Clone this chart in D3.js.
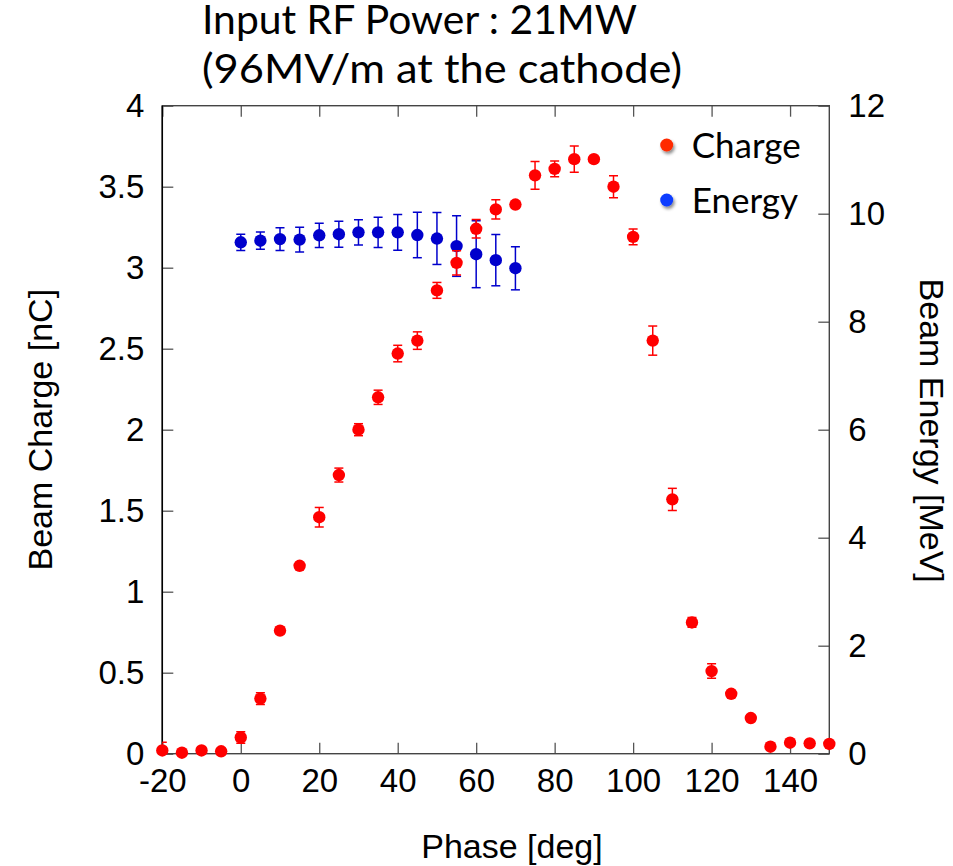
<!DOCTYPE html>
<html>
<head>
<meta charset="utf-8">
<script src="https://cdn.jsdelivr.net/npm/d3@7"></script>
<style>
    body { margin: 0; background: #fff; }
</style>
</head>
<body>
<svg class="chart"></svg>
<script>
// phase scan data
let chargePhase = [-20, -15, -10, -5, 0, 5, 10, 15, 20, 25, 30, 35, 40, 45, 50, 55, 60, 65, 70,
    75, 80, 85, 90, 95, 100, 105, 110, 115, 120, 125, 130, 135, 140, 145, 150];
let charge = [0.02, 0.006, 0.02, 0.015, 0.10, 0.34, 0.76, 1.16, 1.46, 1.72, 2.00, 2.20, 2.47, 2.55, 2.86,
    3.03, 3.24, 3.36, 3.39, 3.57, 3.61, 3.67, 3.67, 3.50, 3.19, 2.55, 1.57, 0.81, 0.51, 0.37, 0.22,
    0.043, 0.068, 0.064, 0.06];
let chargeErr = [0.05, 0.01, 0.02, 0.01, 0.036, 0.037, 0.02, 0.02, 0.06, 0.043, 0.037, 0.044, 0.051, 0.054, 0.049,
    0.075, 0.057, 0.059, 0.0, 0.086, 0.048, 0.081, 0.0, 0.068, 0.049, 0.09, 0.068, 0.03, 0.045, 0.02, 0.02,
    0.01, 0.01, 0.01, 0.01];

let energyPhase = [0, 5, 10, 15, 20, 25, 30, 35, 40, 45, 50, 55, 60, 65, 70];
let energy = [9.47, 9.50, 9.53, 9.52, 9.60, 9.62, 9.655, 9.655, 9.655, 9.605, 9.54, 9.40, 9.25, 9.14, 8.99];
let energyErr = [0.15, 0.16, 0.21, 0.23, 0.225, 0.24, 0.235, 0.28, 0.33, 0.42, 0.48, 0.56, 0.62, 0.475, 0.40];

let xTicks = [-20, 0, 20, 40, 60, 80, 100, 120, 140];
let yLeftTicks = [0, 0.5, 1, 1.5, 2, 2.5, 3, 3.5, 4];
let yRightTicks = [0, 2, 4, 6, 8, 10, 12];

let titleLines = ['Input RF Power : 21MW', '(96MV/m at the cathode)'];
let legendNames = ['Charge', 'Energy'];

let W = 953, H = 866;
let pL = 162.3, pR = 829.3, pT = 105.7, pB = 753.7;
let tickFont = '"Liberation Sans", Arial, sans-serif';
let calFont = 'Lato, "Open Sans", sans-serif';

let x = d3.scaleLinear().domain([-20, 150]).range([pL, pR]);
let yC = d3.scaleLinear().domain([0, 4]).range([pB, pT]);
let yE = d3.scaleLinear().domain([0, 12]).range([pB, pT]);

let svg = d3.select('svg.chart').attr('width', W).attr('height', H);

let defs = svg.append('defs');
defs.append('clipPath').attr('id', 'plot')
    .append('rect')
    .attr('x', pL).attr('y', pT)
    .attr('width', pR - pL).attr('height', pB - pT);
defs.append('filter').attr('id', 'shadow')
    .attr('x', '-50%').attr('y', '-50%').attr('width', '200%').attr('height', '200%')
    .append('feDropShadow')
    .attr('dx', 1.5).attr('dy', 2.5).attr('stdDeviation', 1.5)
    .attr('flood-color', '#000').attr('flood-opacity', 0.45);

//坐标轴 - ticks point inward
function styleAxis(g) {
    g.select('.domain').remove();
    g.selectAll('.tick line').attr('stroke', '#555').attr('stroke-width', 1.3);
    g.selectAll('.tick text')
        .attr('fill', '#000')
        .attr('font-family', tickFont)
        .attr('font-size', 33);
}

svg.append('g')
    .attr('transform', `translate(0,${pB})`)
    .call(d3.axisBottom(x).tickValues(xTicks).tickFormat(d => String(d)).tickSize(-11).tickPadding(15))
    .call(styleAxis);

svg.append('g')
    .attr('transform', `translate(0,${pT})`)
    .call(d3.axisTop(x).tickValues(xTicks).tickFormat('').tickSize(-11))
    .call(styleAxis);

svg.append('g')
    .attr('transform', `translate(${pL},0)`)
    .call(d3.axisLeft(yC).tickValues(yLeftTicks).tickFormat(d => String(d)).tickSize(-11).tickPadding(18))
    .call(styleAxis);

svg.append('g')
    .attr('transform', `translate(${pR},0)`)
    .call(d3.axisRight(yE).tickValues(yRightTicks).tickFormat(d => String(d)).tickSize(-11).tickPadding(19))
    .call(styleAxis);

// frame
svg.append('rect')
    .attr('x', pL).attr('y', pT)
    .attr('width', pR - pL).attr('height', pB - pT)
    .attr('fill', 'none').attr('stroke', '#444').attr('stroke-width', 1.4);
svg.append('line')
    .attr('x1', pL).attr('x2', pL).attr('y1', pT).attr('y2', pB)
    .attr('stroke', '#000').attr('stroke-width', 1.5);

// error bars + markers
function drawSeries(xs, ys, errs, yScale, color) {
    let data = xs.map((p, i) => ({p: p, v: ys[i], e: errs[i]}));
    let bars = svg.append('g').attr('clip-path', 'url(#plot)')
        .attr('stroke', color).attr('stroke-width', 1.5).attr('fill', 'none');
    let withErr = data.filter(d => d.e > 0);
    bars.selectAll('line.bar')
        .data(withErr)
        .enter().append('line')
        .attr('x1', d => x(d.p)).attr('x2', d => x(d.p))
        .attr('y1', d => yScale(d.v - d.e)).attr('y2', d => yScale(d.v + d.e));
    bars.selectAll('line.capTop')
        .data(withErr)
        .enter().append('line')
        .attr('x1', d => x(d.p) - 4.5).attr('x2', d => x(d.p) + 4.5)
        .attr('y1', d => yScale(d.v + d.e)).attr('y2', d => yScale(d.v + d.e));
    bars.selectAll('line.capBot')
        .data(withErr)
        .enter().append('line')
        .attr('x1', d => x(d.p) - 4.5).attr('x2', d => x(d.p) + 4.5)
        .attr('y1', d => yScale(d.v - d.e)).attr('y2', d => yScale(d.v - d.e));
    svg.append('g')
        .selectAll('circle')
        .data(data)
        .enter().append('circle')
        .attr('cx', d => x(d.p))
        .attr('cy', d => yScale(d.v))
        .attr('r', 6.2)
        .attr('fill', color);
}

drawSeries(energyPhase, energy, energyErr, yE, '#0000cc');
drawSeries(chargePhase, charge, chargeErr, yC, '#ff0000');

// axis titles
svg.append('text')
    .attr('x', 512).attr('y', 858)
    .attr('text-anchor', 'middle')
    .attr('font-family', tickFont).attr('font-size', 34)
    .text('Phase [deg]');

svg.append('text')
    .attr('transform', `translate(52,${(pT + pB) / 2}) rotate(-90)`)
    .attr('text-anchor', 'middle')
    .attr('font-family', tickFont).attr('font-size', 34)
    .text('Beam Charge [nC]');

svg.append('text')
    .attr('transform', `translate(920,${(pT + pB) / 2 + 1}) rotate(90)`)
    .attr('text-anchor', 'middle')
    .attr('font-family', tickFont).attr('font-size', 34)
    .text('Beam Energy [MeV]');

// title
let titleLen = [435, 480];
svg.selectAll('text.title')
    .data(titleLines)
    .enter().append('text')
    .attr('class', 'title')
    .attr('x', 202)
    .attr('y', (d, i) => 34 + i * 48.5)
    .attr('font-family', calFont).attr('font-size', 41)
    .attr('textLength', (d, i) => titleLen[i])
    .attr('lengthAdjust', 'spacingAndGlyphs')
    .text(d => d);

// legend
let legendColors = ['#ff2a00', '#0a3cff'];
let legend = svg.selectAll('g.legend')
    .data(legendNames)
    .enter().append('g')
    .attr('class', 'legend')
    .attr('transform', (d, i) => `translate(666.7,${145 + i * 55})`);
legend.append('circle')
    .attr('r', 6.5)
    .attr('fill', (d, i) => legendColors[i])
    .attr('filter', 'url(#shadow)');
legend.append('text')
    .attr('x', 25).attr('y', 13)
    .attr('font-family', calFont).attr('font-size', 35)
    .text(d => d);
</script>
</body>
</html>
